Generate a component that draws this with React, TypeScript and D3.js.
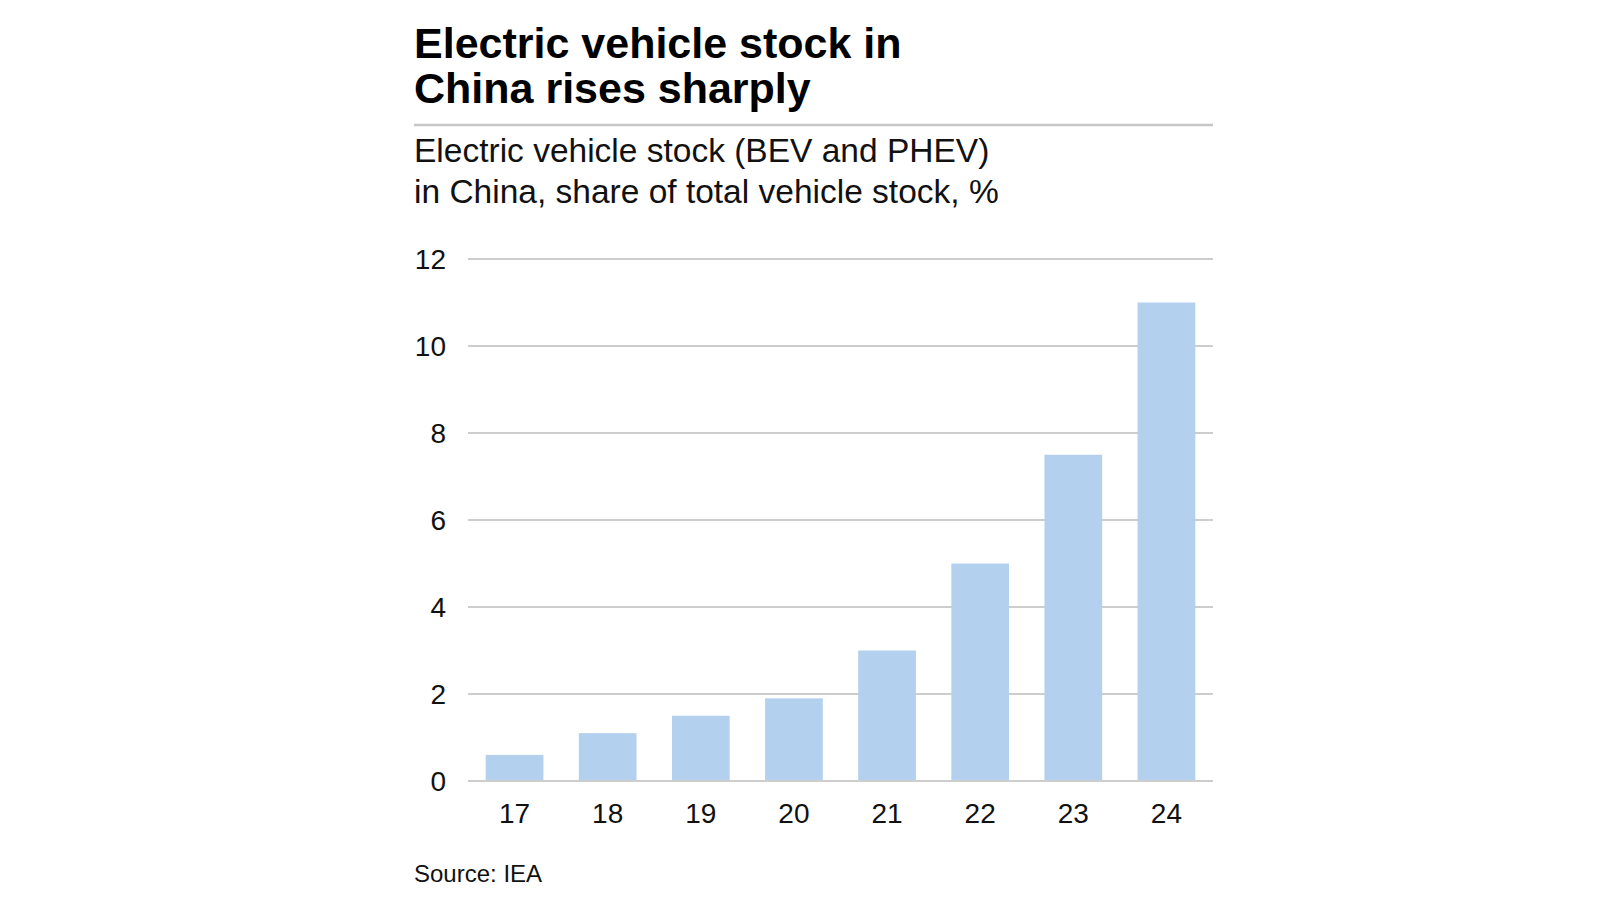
import * as d3 from "d3";

// Chart data
const years = ["17", "18", "19", "20", "21", "22", "23", "24"];
const evShare = [0.6, 1.1, 1.5, 1.9, 3.0, 5.0, 7.5, 11.0];
const yTicks = [0, 2, 4, 6, 8, 10, 12];

const titleLines = ["Electric vehicle stock in", "China rises sharply"];
const subtitleLines = ["Electric vehicle stock (BEV and PHEV)", "in China, share of total vehicle stock, %"];
const sourceText = "Source: IEA";

const W = 1600;
const H = 900;
const FONT = "'Liberation Sans', Arial, Helvetica, sans-serif";
const BAR = "#b4d0ef";
const GRID = "#cdcdcd";

// plot area, in page pixels
const plot = { left: 468, right: 1213, top: 259, bottom: 781 };

export default function App() {
  const x = d3.scaleBand<string>().domain(years).range([plot.left, plot.right]).paddingInner(0.38).paddingOuter(0.19);
  const y = d3.scaleLinear().domain([0, 12]).range([plot.bottom, plot.top]);

  return (
    <svg width={W} height={H} style={{ position: "absolute", left: 0, top: 0, display: "block", background: "#fff" }} fontFamily={FONT}>
      {/* title */}
      {titleLines.map((t, i) => (
        <text key={t} x={414} y={58 + i * 45} fontSize={43} fontWeight="bold" fill="#000">{t}</text>
      ))}
      <line x1={414} x2={plot.right} y1={125} y2={125} stroke="#c6c6c6" strokeWidth={2.5} />
      {subtitleLines.map((t, i) => (
        <text key={t} x={414} y={162 + i * 41} fontSize={33.5} fill="#111">{t}</text>
      ))}

      {/* gridlines behind bars */}
      {yTicks.filter((t) => t !== 0).map((t) => (
        <line key={`g${t}`} x1={plot.left} x2={plot.right} y1={y(t)} y2={y(t)} stroke={GRID} strokeWidth={2} />
      ))}
      {years.map((yr, i) => (
        <rect key={yr} x={x(yr)} y={y(evShare[i])} width={x.bandwidth()} height={y(0) - y(evShare[i]) - 1} fill={BAR} />
      ))}
      <line x1={plot.left} x2={plot.right} y1={y(0)} y2={y(0)} stroke={GRID} strokeWidth={2} />

      {/* axes labels */}
      {yTicks.map((t) => (
        <text key={`l${t}`} x={446} y={y(t) + 10} fontSize={28} textAnchor="end" fill="#111">{t}</text>
      ))}
      {years.map((yr) => (
        <text key={`x${yr}`} x={(x(yr) ?? 0) + x.bandwidth() / 2} y={823} fontSize={28} textAnchor="middle" fill="#111">{yr}</text>
      ))}

      <text x={414} y={882} fontSize={24} fill="#111">{sourceText}</text>
    </svg>
  );
}
